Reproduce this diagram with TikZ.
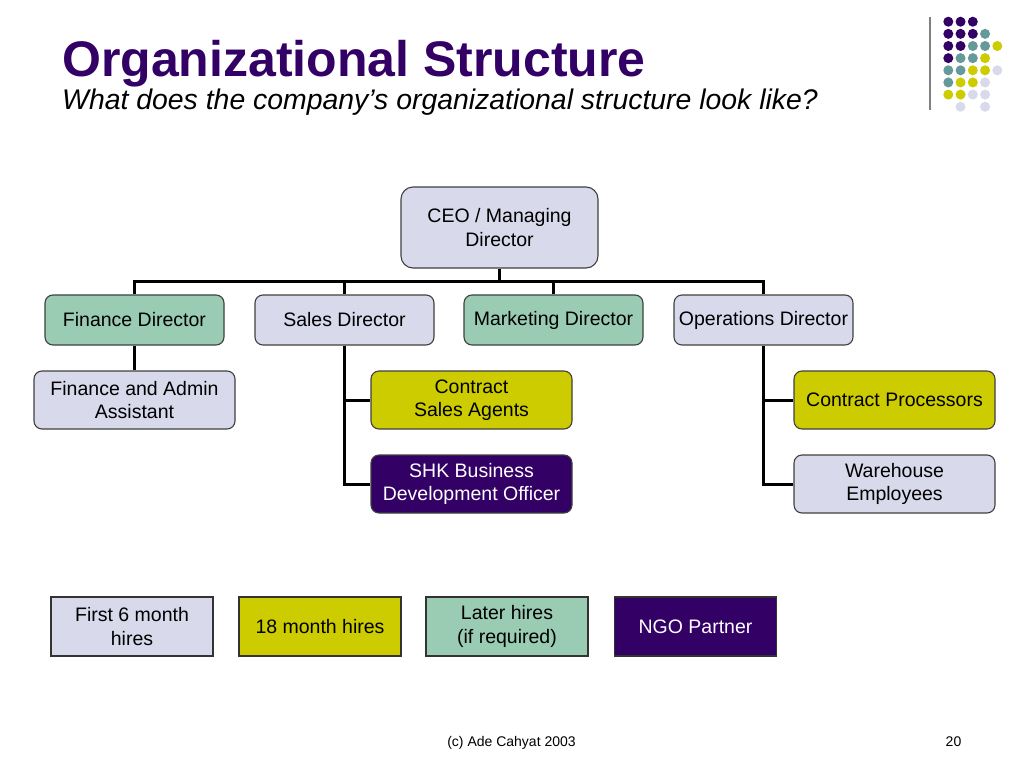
\documentclass[tikz,border=0pt]{standalone}
\usepackage{fontspec}
\setmainfont{Liberation Sans}
\usepackage{tikz}
\usepackage{xcolor}
\definecolor{org-purple}{HTML}{330066}
\definecolor{org-lilac}{HTML}{D9D9EC}
\definecolor{org-green}{HTML}{99CCB3}
\definecolor{org-yellow}{HTML}{CCCC00}
\definecolor{org-teal}{HTML}{669999}
\tikzset{
    org-box/.style = {draw=black!75, line width=1.1pt, rectangle, rounded corners=8pt, inner sep=2pt, align=center, font=\fontsize{19.5}{23.5}\selectfont, minimum width=179pt, minimum height=50pt},
    top-box/.style = {org-box, fill=org-lilac, minimum width=197pt, minimum height=81pt, rounded corners=12pt},
    staff-box/.style = {org-box, minimum width=201pt, minimum height=58pt},
    key-box/.style = {draw=black!80, line width=1.6pt, rectangle, inner sep=2pt, align=center, font=\fontsize{19.5}{23.5}\selectfont, minimum width=162pt, minimum height=59pt},
    org-link/.style = {line width=3pt},
}

\begin{document}
\begin{tikzpicture}[x=1pt, y=-1pt]
\fill[white] (0,0) rectangle (1024,768);
\useasboundingbox (0,0) rectangle (1024,768);

% heading
\node[anchor=base west, inner sep=0pt, text=org-purple, font=\fontsize{50}{55}\selectfont\bfseries] (title) at (62,77) {Organizational Structure};
\node[anchor=base west, inner sep=0pt, font=\fontsize{28.4}{32}\selectfont\itshape] (subtitle) at (62,109) {What does the company’s organizational structure look like?};

% corner mark
\draw[gray, line width=2pt] (930,17) -- (930,110);
\foreach \col/\row/\shade in {1/1/org-purple, 2/1/org-purple, 3/1/org-purple,
    1/2/org-purple, 2/2/org-purple, 3/2/org-purple, 4/2/org-teal,
    1/3/org-purple, 2/3/org-purple, 3/3/org-teal, 4/3/org-teal, 5/3/org-yellow,
    1/4/org-purple, 2/4/org-teal, 3/4/org-teal, 4/4/org-yellow,
    1/5/org-teal, 2/5/org-teal, 3/5/org-yellow, 4/5/org-yellow, 5/5/org-lilac,
    1/6/org-teal, 2/6/org-yellow, 3/6/org-yellow, 4/6/org-lilac,
    1/7/org-yellow, 2/7/org-yellow, 3/7/org-lilac, 4/7/org-lilac,
    2/8/org-lilac, 4/8/org-lilac}
    \fill[\shade] (936.05+12.25*\col, 9.55+12.15*\row) circle (5pt);

% chart
\node[top-box] (ceo) at (499.5,227.5) {CEO / Managing\\Director};

\node[org-box, fill=org-green] (finance) at (134.5,320) {Finance Director};
\node[org-box, fill=org-lilac] (sales) at (344.5,320) {Sales Director};
\node[org-box, fill=org-green] (marketing) at (553.5,320) {Marketing Director};
\node[org-box, fill=org-lilac] (operations) at (763.5,320) {Operations Director};

\node[staff-box, fill=org-lilac] (admin) at (134.5,400) {Finance and Admin\\Assistant};
\node[staff-box, fill=org-yellow] (agents) at (471.5,400) {Contract\\Sales Agents};
\node[staff-box, fill=org-purple, text=white] (shk) at (471.5,484) {SHK Business\\Development Officer};
\node[staff-box, fill=org-yellow] (processors) at (894.5,400) {Contract Processors};
\node[staff-box, fill=org-lilac] (warehouse) at (894.5,484) {Warehouse\\Employees};

\coordinate (bus) at (499.5,281);
\draw[org-link] (ceo.south) -- (bus);
\draw[org-link] (finance.north) |- (bus);
\draw[org-link] (sales.north) |- (bus);
\draw[org-link] (marketing.north) |- (bus);
\draw[org-link] (operations.north) |- (bus);

\draw[org-link] (finance.south) -- (admin.north);
\draw[org-link] (sales.south) |- (agents.west);
\draw[org-link] (sales.south) |- (shk.west);
\draw[org-link] (operations.south) |- (processors.west);
\draw[org-link] (operations.south) |- (warehouse.west);

% key
\node[key-box, fill=org-lilac] (key-first) at (132,626.5) {First 6 month\\hires};
\node[key-box, fill=org-yellow] (key-later18) at (320,626.5) {18 month hires};
\node[key-box, fill=org-green] (key-later) at (507,626.5) {Later hires\\(if required)};
\node[key-box, fill=org-purple, text=white] (key-ngo) at (695.5,626.5) {NGO Partner};

% footer
\node[anchor=base, inner sep=0pt, font=\fontsize{14}{16}\selectfont] (credit) at (511.5,746) {(c) Ade Cahyat 2003};
\node[anchor=base, inner sep=0pt, font=\fontsize{14}{16}\selectfont] (page) at (953.5,746) {20};
\end{tikzpicture}
\end{document}
